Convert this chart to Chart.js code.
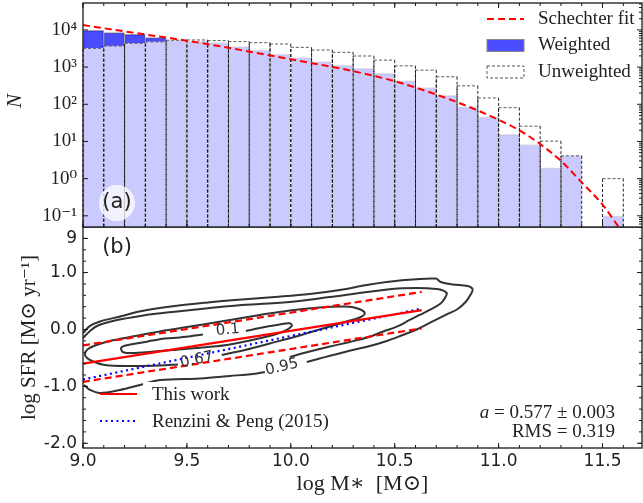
<!DOCTYPE html>
<html>
<head>
<meta charset="utf-8">
<script src="https://cdn.jsdelivr.net/npm/chart.js@4.4.0/dist/chart.umd.min.js"></script>
<style>
  body { margin: 0; background: #fff; }
  #wrap { position: relative; width: 643px; height: 503px; }
  .panel { position: absolute; left: 0; width: 643px; }
</style>
</head>
<body>
<div id="wrap">
  <div class="panel" style="top:0;height:228px"><canvas id="histChart"></canvas></div>
  <div class="panel" style="top:227px;height:276px"><canvas id="sfrChart"></canvas></div>
</div>
<script>
// ---- panel (a): stellar mass histogram ----
var binCenters = [9.05, 9.15, 9.25, 9.35, 9.45, 9.55, 9.65, 9.75, 9.85, 9.95, 10.05, 10.15, 10.25,
                  10.35, 10.45, 10.55, 10.65, 10.75, 10.85, 10.95, 11.05, 11.15, 11.25, 11.35, 11.45, 11.55];
var weighted   = [9800, 8500, 7600, 6200, 5300, 5050, 4540, 3540, 2880, 2250, 1800, 1400, 1120,
                  920, 675, 430, 283, 175, 85, 46, 15.5, 8.3, 1.95, 4.1, null, 0.1];
var unweighted = [3200, 3700, 4370, 4760, 5300, 5370, 5150, 4840, 4540, 4180, 3400, 2880, 2500,
                  1990, 1540, 1080, 830, 550, 313, 148, 81, 25.8, 10.2, 4.1, null, 1.0];
var fitMass = [9.0, 9.25, 9.5, 9.75, 10.0, 10.25, 10.5, 10.75, 10.9, 11.0, 11.1, 11.2, 11.3, 11.4, 11.5, 11.58];
var fitN    = [13500, 8300, 5130, 2950, 1620, 890, 417, 145, 68, 38, 20, 8.5, 3.0, 0.79, 0.20, 0.048];
var histTickVals   = [0.1, 1, 10, 100, 1000, 10000];
var histTickLabels = ['10⁻¹', '10⁰', '10¹', '10²', '10³', '10⁴'];

// ---- panel (b): SFR vs stellar mass ----
var massTickVals   = [9.0, 9.5, 10.0, 10.5, 11.0, 11.5];
var massTickLabels = ['9.0', '9.5', '10.0', '10.5', '11.0', '11.5'];
var sfrTickVals    = [-2, -1, 0, 1, 1.6];
var sfrTickLabels  = ['-2.0', '-1.0', '0.0', '1.0', '9'];

var fitLineX   = [9.0, 10.63];
var fitLineY   = [-0.60, 0.34];
var fitUpperY  = [-0.28, 0.66];
var fitLowerY  = [-0.92, 0.02];
var rp15X      = [9.0, 10.62];
var rp15Y      = [-0.88, 0.36];

var contour95a = [[9.000,-0.062],[9.034,0.062],[9.082,0.141],[9.178,0.228],[9.284,0.325],[9.442,0.413],
  [9.601,0.475],[9.764,0.527],[9.923,0.571],[10.091,0.624],[10.236,0.694],[10.380,0.791],[10.524,0.861],
  [10.697,0.896],[10.721,0.835],[10.779,0.791],[10.851,0.764],[10.875,0.703],[10.861,0.589],[10.841,0.483],
  [10.803,0.360],[10.750,0.264],[10.678,0.132],[10.611,0.009],[10.538,-0.097],[10.462,-0.202],[10.380,-0.290],
  [10.260,-0.395],[10.139,-0.510],[10.077,-0.571]];
var contour95b = [[9.875,-0.747],[9.837,-0.773],[9.707,-0.817],[9.563,-0.861],[9.370,-0.888],[9.274,-0.975],
  [9.178,-1.063],[9.082,-1.116],[9.034,-1.063],[9.005,-0.975]];
var contourMid = [[9.000,-0.149],[9.034,-0.026],[9.072,0.070],[9.154,0.158],[9.284,0.243],[9.442,0.313],
  [9.601,0.373],[9.764,0.431],[9.851,0.448],[10.019,0.492],[10.188,0.571],[10.380,0.664],[10.538,0.724],
  [10.702,0.712],[10.750,0.641],[10.740,0.545],[10.721,0.457],[10.668,0.343],[10.620,0.255],[10.572,0.167],
  [10.510,0.049],[10.442,-0.039],[10.380,-0.127],[10.284,-0.220],[10.188,-0.299],[10.058,-0.418],[9.995,-0.483]];
var contour67 = [[9.668,-0.448],[9.779,-0.360],[9.899,-0.246],[10.043,-0.105],[10.163,0.026],[10.260,0.132],
  [10.332,0.211],[10.356,0.290],[10.322,0.369],[10.264,0.404],[10.139,0.387],[9.995,0.334],[9.851,0.255],
  [9.707,0.167],[9.563,0.079],[9.370,-0.035],[9.226,-0.132],[9.130,-0.202],[9.058,-0.281],[9.024,-0.343],
  [9.010,-0.413],[9.014,-0.483],[9.043,-0.554],[9.106,-0.624],[9.226,-0.641],[9.370,-0.633],[9.457,-0.615]];
var contour10 = [[9.784,-0.026],[9.851,0.026],[9.933,0.079],[9.995,0.109],[10.005,0.062],[9.962,-0.039],
  [9.851,-0.155],[9.692,-0.272],[9.529,-0.330],[9.370,-0.378],[9.250,-0.413],[9.197,-0.404],[9.183,-0.343],
  [9.197,-0.290],[9.308,-0.214],[9.394,-0.158],[9.466,-0.141],[9.577,-0.088]];
var contourLabels = ['0.1', '0.67', '0.95'];
var contourLabelX = [9.697, 9.548, 9.957];
var contourLabelY = [-0.012, -0.536, -0.662];

var SERIF = "'Liberation Serif', 'DejaVu Serif', serif";
var SANS = "'DejaVu Sans', sans-serif";

function steps(a, b, d) {
  var out = [];
  for (var v = a; v <= b + 1e-9; v += d) out.push(Math.round(v * 1000) / 1000);
  return out;
}
function pts(arr) { return arr.map(function (p) { return { x: p[0], y: p[1] }; }); }
function pair(xs, ys) { return xs.map(function (x, i) { return { x: x, y: ys[i] }; }); }
function bars(vals) {
  return binCenters.map(function (m, i) { return { x: m, y: vals[i] }; })
                   .filter(function (p) { return p.y !== null; });
}
// keep tick labels from pushing the plot area inwards
function noPad(s) { s.paddingTop = 0; s.paddingBottom = 0; s.paddingLeft = 0; s.paddingRight = 0; }

function drawTicks(ctx, scale, values, len, side, a) {
  values.forEach(function (v) {
    var p = scale.getPixelForValue(v);
    ctx.beginPath();
    if (side === 'bottom') { ctx.moveTo(p, a.bottom); ctx.lineTo(p, a.bottom - len); }
    if (side === 'top')    { ctx.moveTo(p, a.top);    ctx.lineTo(p, a.top + len); }
    if (side === 'left')   { ctx.moveTo(a.left, p);   ctx.lineTo(a.left + len, p); }
    if (side === 'right')  { ctx.moveTo(a.right, p);  ctx.lineTo(a.right - len, p); }
    ctx.stroke();
  });
}
function frame(ctx, a) {
  ctx.strokeStyle = '#1a1a1a';
  ctx.lineWidth = 1.3;
  ctx.strokeRect(a.left, a.top, a.right - a.left, a.bottom - a.top);
  ctx.lineWidth = 1;
}

var logMinor = [];
[0.01, 0.1, 1, 10, 100, 1000, 10000].forEach(function (d) {
  for (var k = 2; k <= 9; k++) logMinor.push(k * d);
});

var histDecor = {
  id: 'histDecor',
  afterDatasetDraw: function (chart, args) {
    if (args.index !== 1) return;
    // dashed outline of the unweighted histogram
    var ctx = chart.ctx;
    ctx.save();
    ctx.lineWidth = 1;
    ctx.setLineDash([3, 2]);
    args.meta.data.forEach(function (bar) {
      var p = bar.getProps(['x', 'y', 'base', 'width'], true);
      var l = p.x - p.width / 2, r = p.x + p.width / 2;
      ctx.strokeStyle = 'rgba(15,15,15,0.9)';
      ctx.beginPath();
      ctx.moveTo(l, p.base); ctx.lineTo(l, p.y);
      ctx.moveTo(r, p.y); ctx.lineTo(r, p.base);
      ctx.stroke();
      ctx.strokeStyle = 'rgba(70,70,70,0.9)';
      ctx.beginPath(); ctx.moveTo(l, p.y); ctx.lineTo(r, p.y); ctx.stroke();
    });
    ctx.restore();
  },
  afterDraw: function (chart) {
    var ctx = chart.ctx, a = chart.chartArea;
    var xs = chart.scales.x, ys = chart.scales.y;
    ctx.save();
    frame(ctx, a);
    ctx.strokeStyle = '#1a1a1a';
    drawTicks(ctx, xs, steps(9.0, 11.6, 0.1), 3, 'top', a);
    drawTicks(ctx, xs, steps(9.0, 11.5, 0.5), 5, 'top', a);
    drawTicks(ctx, xs, steps(9.0, 11.6, 0.1), 3, 'bottom', a);
    drawTicks(ctx, xs, steps(9.0, 11.5, 0.5), 5, 'bottom', a);
    drawTicks(ctx, ys, histTickVals, 5, 'left', a);
    drawTicks(ctx, ys, histTickVals, 5, 'right', a);
    drawTicks(ctx, ys, logMinor.filter(function (v) { return v > 0.05 && v < 53000; }), 3, 'right', a);

    // (a) badge
    ctx.fillStyle = 'rgba(255,255,255,0.75)';
    ctx.beginPath(); ctx.arc(a.left + 34, a.bottom - 24, 18, 0, Math.PI * 2); ctx.fill();
    ctx.fillStyle = '#222';
    ctx.font = '21px ' + SANS;
    ctx.textAlign = 'center'; ctx.textBaseline = 'middle';
    ctx.fillText('(a)', a.left + 34, a.bottom - 24);

    // legend
    var lx = a.right - 155, tx = lx + 51;
    ctx.textAlign = 'left';
    ctx.font = '19px ' + SERIF;
    ctx.strokeStyle = '#ff0000'; ctx.lineWidth = 2; ctx.setLineDash([7, 4]);
    ctx.beginPath(); ctx.moveTo(lx, a.top + 16); ctx.lineTo(lx + 37, a.top + 16); ctx.stroke();
    ctx.setLineDash([]);
    ctx.fillStyle = 'rgba(0,0,255,0.7)';
    ctx.fillRect(lx, a.top + 36.5, 37, 12);
    ctx.strokeStyle = '#888'; ctx.lineWidth = 1;
    ctx.strokeRect(lx, a.top + 36.5, 37, 12);
    ctx.setLineDash([3, 2]); ctx.strokeStyle = '#555';
    ctx.strokeRect(lx, a.top + 63, 37, 12);
    ctx.setLineDash([]);
    ctx.fillStyle = '#222';
    ctx.fillText('Schechter fit', tx, a.top + 16);
    ctx.fillText('Weighted', tx, a.top + 42.5);
    ctx.fillText('Unweighted', tx, a.top + 69);

    // y title
    ctx.translate(15, 101);
    ctx.rotate(-Math.PI / 2);
    ctx.textAlign = 'center';
    ctx.font = 'italic 21px ' + SERIF;
    ctx.fillText('N', 0, 0);
    ctx.restore();
  }
};

var sfrDecor = {
  id: 'sfrDecor',
  afterDraw: function (chart) {
    var ctx = chart.ctx, a = chart.chartArea;
    var xs = chart.scales.x, ys = chart.scales.y;
    ctx.save();
    ctx.beginPath(); ctx.rect(a.left, a.top, a.right - a.left, a.bottom - a.top); ctx.clip();

    // contour labels
    ctx.fillStyle = '#333';
    ctx.font = '15px ' + SANS;
    ctx.textAlign = 'center'; ctx.textBaseline = 'middle';
    var rot = [-5, -12, -13];
    contourLabels.forEach(function (t, i) {
      ctx.save();
      ctx.translate(xs.getPixelForValue(contourLabelX[i]), ys.getPixelForValue(contourLabelY[i]));
      ctx.rotate(rot[i] * Math.PI / 180);
      ctx.fillText(t, 0, 0);
      ctx.restore();
    });

    // legend
    ctx.fillStyle = '#fff';
    ctx.fillRect(a.left + 60, a.top + 155, 192, 50);
    ctx.lineWidth = 2.2;
    ctx.strokeStyle = '#ff0000';
    ctx.beginPath(); ctx.moveTo(a.left + 17, a.top + 167); ctx.lineTo(a.left + 54, a.top + 167); ctx.stroke();
    ctx.strokeStyle = '#0000ff'; ctx.setLineDash([2, 3.5]);
    ctx.beginPath(); ctx.moveTo(a.left + 17, a.top + 194); ctx.lineTo(a.left + 54, a.top + 194); ctx.stroke();
    ctx.setLineDash([]);
    ctx.fillStyle = '#222';
    ctx.font = '19px ' + SERIF;
    ctx.textAlign = 'left';
    ctx.fillText('This work', a.left + 69, a.top + 168);
    ctx.fillText('Renzini & Peng (2015)', a.left + 69, a.top + 195);

    // slope / scatter annotation
    ctx.textAlign = 'right';
    var rx = a.right - 27;
    var rest = ' = 0.577 ± 0.003';
    var wRest = ctx.measureText(rest).width;
    ctx.fillText(rest, rx, a.top + 186);
    ctx.font = 'italic 19px ' + SERIF;
    ctx.fillText('a', rx - wRest, a.top + 186);
    ctx.font = '19px ' + SERIF;
    ctx.fillText('RMS = 0.319', rx, a.top + 205);

    // (b)
    ctx.font = '21px ' + SANS;
    ctx.textAlign = 'center';
    ctx.fillText('(b)', a.left + 34, a.top + 21);
    ctx.restore();

    ctx.save();
    frame(ctx, a);
    ctx.strokeStyle = '#1a1a1a';
    drawTicks(ctx, xs, steps(9.0, 11.6, 0.1), 3, 'bottom', a);
    drawTicks(ctx, xs, massTickVals, 5, 'bottom', a);
    drawTicks(ctx, ys, steps(-2.0, 1.8, 0.2), 3, 'left', a);
    drawTicks(ctx, ys, sfrTickVals, 5, 'left', a);
    drawTicks(ctx, ys, steps(-2.0, 1.8, 0.2), 3, 'right', a);
    drawTicks(ctx, ys, [-2, -1, 0, 1], 5, 'right', a);
    ctx.restore();
  }
};

var barCommon = { grouped: false, barPercentage: 1, categoryPercentage: 1 };

new Chart(document.getElementById('histChart'), {
  type: 'bar',
  data: {
    datasets: [
      { type: 'line', label: 'Schechter fit', data: pair(fitMass, fitN), borderColor: '#ff0000',
        borderWidth: 2, borderDash: [7, 4], pointRadius: 0, cubicInterpolationMode: 'monotone', order: 0 },
      Object.assign({ label: 'Unweighted', data: bars(unweighted), backgroundColor: 'rgba(255,255,255,0.7)',
        borderWidth: 0, order: 1 }, barCommon),
      Object.assign({ label: 'Weighted', data: bars(weighted), backgroundColor: 'rgba(0,0,255,0.7)',
        borderColor: 'rgba(150,150,150,0.9)', borderWidth: 1, order: 2 }, barCommon)
    ]
  },
  options: {
    responsive: true, maintainAspectRatio: false, animation: false,
    layout: { padding: { top: 3, right: 1, bottom: 1, left: 0 } },
    plugins: { legend: { display: false }, tooltip: { enabled: false } },
    scales: {
      x: { type: 'linear', min: 9.0, max: 11.69, offset: false, display: false,
           afterBuildTicks: function (s) { s.ticks = massTickVals.map(function (v) { return { value: v }; }); } },
      y: { type: 'logarithmic', min: 0.05, max: 53000,
           grid: { display: false, drawTicks: false }, border: { display: false },
           afterBuildTicks: function (s) { s.ticks = histTickVals.map(function (v) { return { value: v }; }); },
           afterFit: function (s) { s.width = 83; noPad(s); },
           ticks: { padding: 6, color: '#222', font: { family: SERIF, size: 19 },
                    callback: function (v, i) { return histTickLabels[i]; } } }
    }
  },
  plugins: [histDecor]
});

var contourStyle = { showLine: true, borderColor: '#333', borderWidth: 2, pointRadius: 0, tension: 0.35, fill: false };
function contourSet(arr) { return Object.assign({ data: pts(arr) }, contourStyle); }

new Chart(document.getElementById('sfrChart'), {
  type: 'scatter',
  data: {
    datasets: [
      { label: 'This work', data: pair(fitLineX, fitLineY), showLine: true, borderColor: '#ff0000', borderWidth: 2.2, pointRadius: 0 },
      { label: 'upper', data: pair(fitLineX, fitUpperY), showLine: true, borderColor: '#ff0000', borderWidth: 2.2, borderDash: [7, 4], pointRadius: 0 },
      { label: 'lower', data: pair(fitLineX, fitLowerY), showLine: true, borderColor: '#ff0000', borderWidth: 2.2, borderDash: [7, 4], pointRadius: 0 },
      { label: 'Renzini & Peng (2015)', data: pair(rp15X, rp15Y), showLine: true, borderColor: '#0000ff', borderWidth: 2.2, borderDash: [2, 3.5], pointRadius: 0 },
      contourSet(contour95a), contourSet(contour95b), contourSet(contourMid),
      contourSet(contour67), contourSet(contour10)
    ]
  },
  options: {
    responsive: true, maintainAspectRatio: false, animation: false,
    layout: { padding: { top: 0, right: 1, bottom: 0, left: 0 } },
    plugins: { legend: { display: false }, tooltip: { enabled: false } },
    scales: {
      x: { type: 'linear', min: 9.0, max: 11.69,
           grid: { display: false, drawTicks: false }, border: { display: false },
           afterBuildTicks: function (s) { s.ticks = massTickVals.map(function (v) { return { value: v }; }); },
           afterFit: function (s) { s.height = 55; noPad(s); },
           ticks: { padding: 3, color: '#222', autoSkip: false, maxRotation: 0, font: { family: SANS, size: 17 },
                    callback: function (v, i) { return massTickLabels[i]; } },
           title: { display: true, text: 'log M∗  [M⊙]', color: '#222', font: { family: SERIF, size: 22 },
                    padding: { top: 0, bottom: 6 } } },
      y: { type: 'linear', min: -2.083, max: 1.801,
           grid: { display: false, drawTicks: false }, border: { display: false },
           afterBuildTicks: function (s) { s.ticks = sfrTickVals.map(function (v) { return { value: v }; }); },
           afterFit: function (s) { s.width = 83; noPad(s); },
           ticks: { padding: 6, color: '#222', font: { family: SANS, size: 17 },
                    callback: function (v, i) { return sfrTickLabels[i]; } },
           title: { display: true, text: 'log SFR [M⊙ yr⁻¹]', color: '#222', font: { family: SERIF, size: 21 },
                    padding: { top: 17, bottom: 0 } } }
    }
  },
  plugins: [sfrDecor]
});
</script>
</body>
</html>
